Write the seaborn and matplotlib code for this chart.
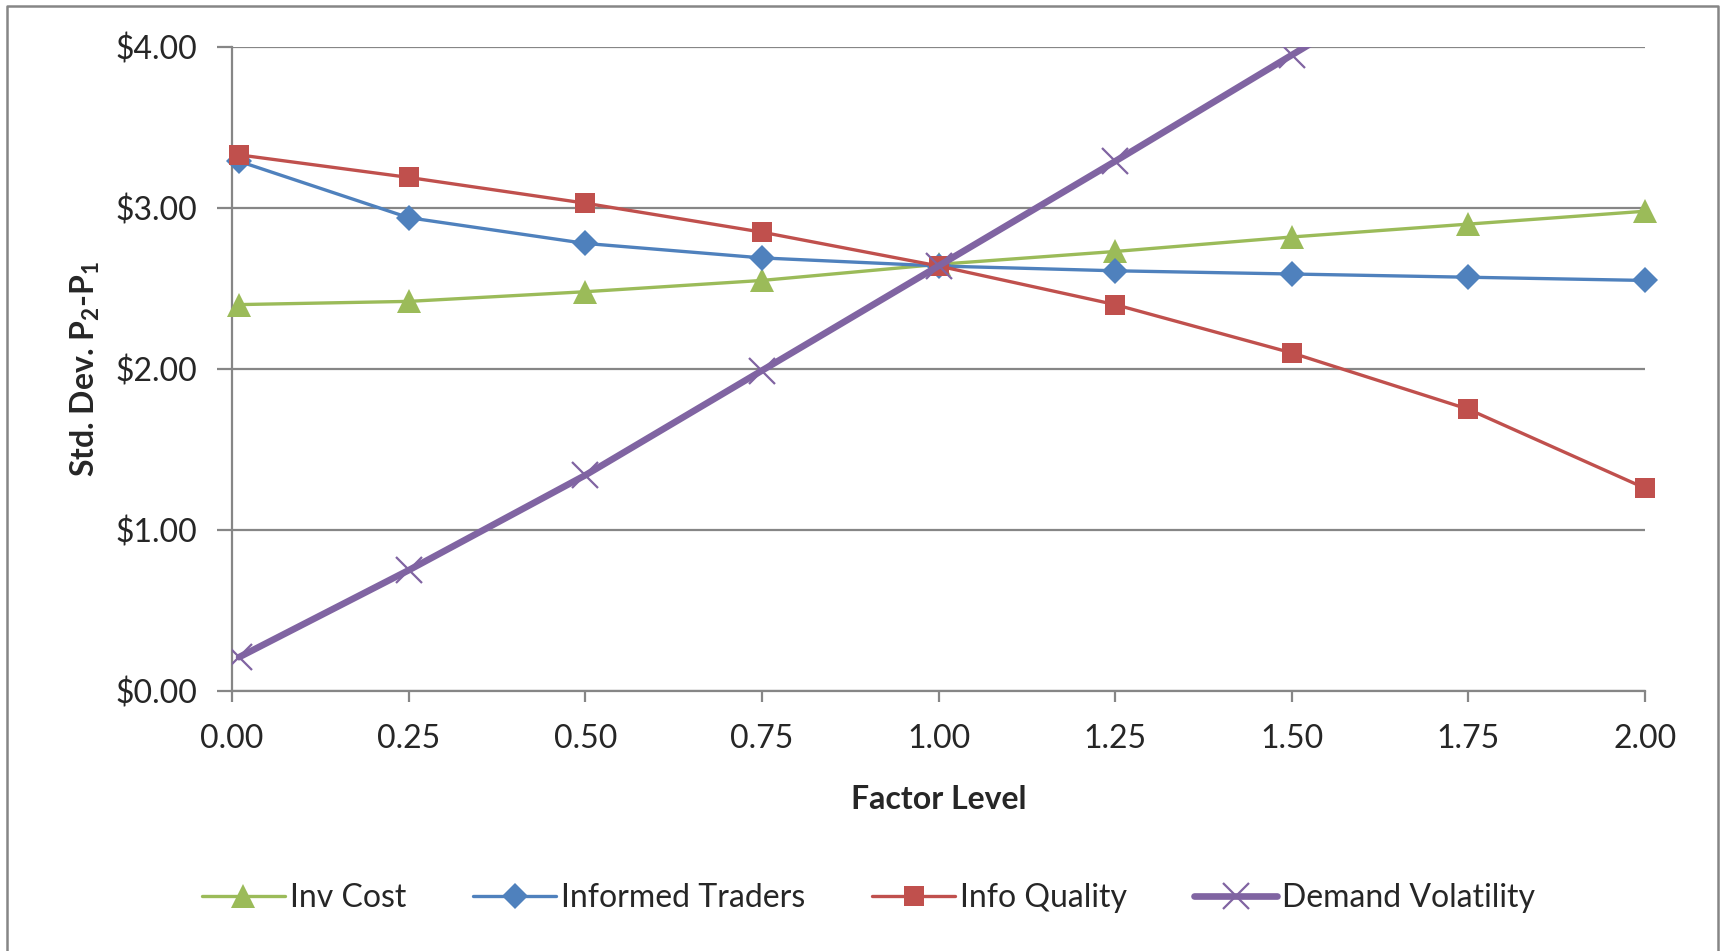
import numpy as np
import pandas as pd
import seaborn as sb
import matplotlib.pyplot as plt
from matplotlib.ticker import FuncFormatter
from matplotlib.lines import Line2D

# data
factor_level = [0.01, 0.25, 0.50, 0.75, 1.00, 1.25, 1.50, 1.75, 2.00]
inv_cost = [2.40, 2.42, 2.48, 2.55, 2.65, 2.73, 2.82, 2.90, 2.98]
informed_traders = [3.29, 2.94, 2.78, 2.69, 2.64, 2.61, 2.59, 2.57, 2.55]
info_quality = [3.33, 3.19, 3.03, 2.85, 2.64, 2.40, 2.10, 1.75, 1.26]
demand_volatility = [0.21, 0.75, 1.34, 1.99, 2.64, 3.29, 3.95, 4.61, 5.27]

series_names = ['Inv Cost', 'Informed Traders', 'Info Quality', 'Demand Volatility']
x_ticks = [0.0, 0.25, 0.5, 0.75, 1.0, 1.25, 1.5, 1.75, 2.0]
y_ticks = [0, 1, 2, 3, 4]

sb.set_theme(style='white')
plt.rcParams['font.family'] = ['Lato', 'DejaVu Sans']
plt.rcParams['mathtext.fontset'] = 'custom'
plt.rcParams['mathtext.rm'] = 'Lato'
plt.rcParams['mathtext.bf'] = 'Lato:bold'

df = pd.DataFrame({'x': factor_level, 'Inv Cost': inv_cost,
                   'Informed Traders': informed_traders,
                   'Info Quality': info_quality,
                   'Demand Volatility': demand_volatility})
long_df = df.melt(id_vars='x', var_name='series', value_name='y')

styles = {
    'Inv Cost': dict(color='#9BBB59', marker='^', lw=2.4, ms=17, mew=0),
    'Informed Traders': dict(color='#4F81BD', marker='D', lw=2.4, ms=13, mew=0),
    'Info Quality': dict(color='#C0504D', marker='s', lw=2.4, ms=15, mew=0),
    'Demand Volatility': dict(color='#8064A2', marker='x', lw=4.8, ms=19, mew=1.6),
}

grey = '#868686'
fs = 23
fig = plt.figure(figsize=(17.23, 9.51), dpi=100)
ax = fig.add_axes([232 / 1723, 1 - 691 / 951, 1413 / 1723, 644 / 951])

for name in series_names:
    st = styles[name]
    sub = long_df[long_df['series'] == name]
    sb.lineplot(data=sub, x='x', y='y', ax=ax, color=st['color'], lw=st['lw'],
                marker=st['marker'], markersize=st['ms'], markeredgewidth=st['mew'],
                markeredgecolor=st['color'], label=name, zorder=3,
                clip_on=(name == 'Demand Volatility'))

ax.set_xlim(0, 2)
ax.set_ylim(0, 4)
ax.set_xticks(x_ticks)
ax.set_yticks(y_ticks)
ax.xaxis.set_major_formatter(FuncFormatter(lambda v, p: f'{v:.2f}'))
ax.yaxis.set_major_formatter(FuncFormatter(lambda v, p: f'\\${v:.2f}'))
ax.grid(axis='y', color=grey, lw=1.6)
ax.grid(axis='x', visible=False)
for s in ['top', 'right']:
    ax.spines[s].set_visible(False)
for s in ['left', 'bottom']:
    ax.spines[s].set_color(grey)
    ax.spines[s].set_linewidth(1.6)
ax.tick_params(axis='y', direction='out', length=11, width=1.6, color=grey,
               labelsize=fs, pad=14, left=True)
ax.tick_params(axis='x', direction='out', length=8, width=1.6, color=grey,
               labelsize=fs, pad=16, bottom=True)

ax.set_xlabel('Factor Level', fontsize=fs, fontweight='bold')
ax.set_ylabel(r'Std. Dev. P$_\mathbf{2}$-P$_\mathbf{1}$', fontsize=fs, fontweight='bold')
ax.xaxis.set_label_coords(0.5, -0.146)
ax.yaxis.set_label_coords(-0.092, 0.5)

ax.get_legend().remove()
handles = [Line2D([], [], color=styles[n]['color'], lw=styles[n]['lw'],
                  marker=styles[n]['marker'], markersize=styles[n]['ms'],
                  markeredgewidth=styles[n]['mew'], markeredgecolor=styles[n]['color'])
           for n in series_names]
fig.legend(handles, series_names, loc='center', bbox_to_anchor=(0.504, 1 - 898 / 951),
           ncol=4, frameon=False, fontsize=fs, handlelength=2.6, handletextpad=0.15,
           columnspacing=2.1)

# outer chart border (left, top, right)
fig.add_artist(Line2D([7 / 1723, 7 / 1723, 1718 / 1723, 1718 / 1723],
                      [0, 1 - 6 / 951, 1 - 6 / 951, 0],
                      transform=fig.transFigure, color=grey, lw=1.8))

plt.savefig('out.png', dpi=100)
